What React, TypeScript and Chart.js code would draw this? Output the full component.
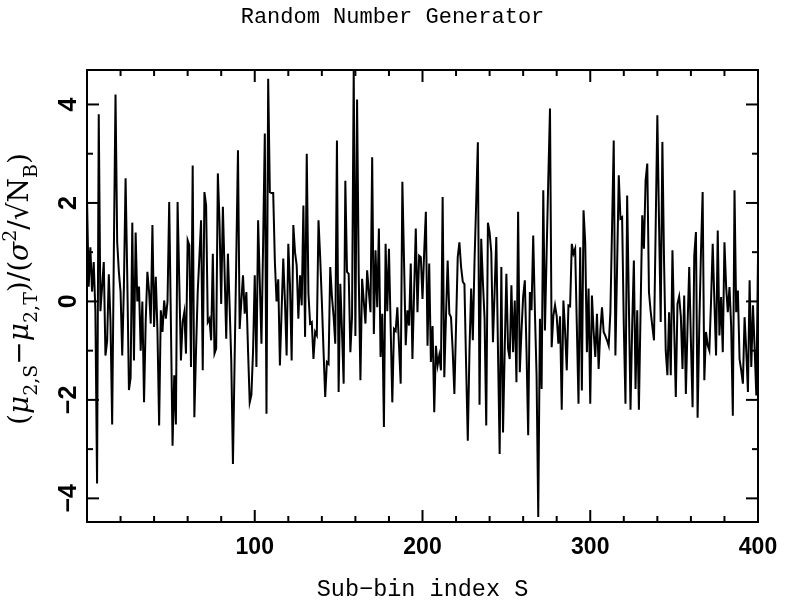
import React, { useEffect, useRef } from "react";
import { Chart, registerables } from "chart.js";

Chart.register(...registerables);

const TITLE = "Random Number Generator";
const X_LABEL = "Sub\u2212bin index S";
const X_MIN = 0;
const X_MAX = 400;
const Y_MIN = -4.48;
const Y_MAX = 4.7;
const X_MAJOR_TICKS = [0, 100, 200, 300, 400];
const X_TICK_LABELS = ["", "100", "200", "300", "400"];
const X_MINOR_TICKS = [20, 40, 60, 80, 120, 140, 160, 180, 220, 240, 260, 280, 320, 340, 360, 380];
const Y_MAJOR_TICKS = [-4, -2, 0, 2, 4];
const Y_TICK_LABELS = ["\u22124", "\u22122", "0", "2", "4"];
const Y_MINOR_TICKS = [-3, -1, 1, 3];

// y-axis label pieces: text + kind (n = normal, i = italic greek, sub, sup)
const Y_LABEL_PARTS: { t: string; k: string }[] = [
  { t: "(", k: "n" },
  { t: "\u03bc", k: "i" },
  { t: "2,S", k: "sub" },
  { t: "\u2212", k: "n" },
  { t: "\u03bc", k: "i" },
  { t: "2,T", k: "sub" },
  { t: ")/(", k: "n" },
  { t: "\u03c3", k: "i" },
  { t: "2", k: "sup" },
  { t: "/\u221aN", k: "n" },
  { t: "B", k: "sub" },
  { t: ")", k: "n" },
];

// values for sub-bin index S = 0 .. 400
const VALUES = [
  2.1, 0.3, 1.1, 0.2, 0.8, -0.2, -3.7, 3.8, -0.2, 0.3,
  0.8, -1.1, -0.8, 0.55, -0.4, -2.5, 1.0, 4.2, 1.2, 0.6,
  0.2, -1.1, 0.3, 2.5, 0.5, -1.8, -1.55, 1.6, -1.2, 1.4,
  0.0, 0.3, -1.0, 0.0, -2.05, -0.4, 0.6, 0.2, -0.45, 1.55,
  -0.52, 0.5, -0.6, -2.52, -0.18, -0.62, 0.02, -0.35, 0.0, 2.02,
  -0.4, -2.93, -1.5, -2.5, 2.02, 0.4, -1.2, -0.42, -0.22, -1.06,
  1.24, 1.14, -1.33, 2.76, -2.35, -1.0, 0.19, 0.9, 1.65, -1.4,
  2.22, 1.95, -0.42, -0.35, -0.79, 0.97, -1.06, -0.96, 2.6, 1.6,
  -0.05, 1.92, 0.63, -0.76, 0.97, -0.08, -1.2, -3.3, -1.2, 0.9,
  3.07, -0.56, 0.0, 0.53, -0.25, 0.19, -1.0, -2.05, -1.9, -1.0,
  0.53, -1.33, 1.65, 0.4, -0.86, 1.2, 3.41, -2.28, 4.52, 2.22,
  2.2, 2.2, 0.8, 0.0, 0.45, -1.3, -0.2, 0.87, 0.0, -1.1,
  1.17, 0.33, -1.2, 1.55, 1.0, 0.73, -0.35, 0.53, -0.08, 1.95,
  -0.72, 3.0, 0.16, -0.45, -0.42, -1.17, -0.62, -0.69, 1.65, 0.9,
  0.0, -1.0, -1.94, -1.23, -1.27, 0.7, 0.1, -0.3, -0.86, 3.27,
  -1.84, 0.36, -0.6, -1.67, 2.45, 0.6, 0.56, -1.03, -0.3, 4.7,
  -0.7, 4.1, 0.5, -1.6, 0.46, 0.0, -0.45, 0.63, 0.2, -0.22,
  2.93, -0.66, 1.04, -0.12, 1.48, -1.13, -0.25, -2.55, 1.17, -0.2,
  1.07, -0.5, -2.05, -0.56, -0.6, -0.12, -0.9, -1.67, 2.43, 0.8,
  -0.89, -0.18, -0.49, 0.77, -1.17, 0.2, 1.48, -0.22, 0.93, 0.9,
  0.05, 1.0, 1.82, -0.9, 0.77, -1.23, -0.5, -2.25, -0.9, -1.3,
  -1.1, -1.4, 2.12, -1.54, -0.3, 0.83, -0.25, -0.32, -1.0, -1.88,
  -0.5, 0.9, 1.2, 0.7, 0.4, 0.35, -1.3, -2.83, -1.0, 0.26,
  -0.79, 0.8, 2.0, 3.23, -2.1, 1.27, 0.4, -0.35, -2.52, 1.6,
  1.4, 1.0, -0.83, 0.2, 1.31, -1.0, -3.1, 0.7, -2.66, -1.0,
  0.56, -0.96, -1.17, 0.33, -1.03, 0.02, -1.64, 1.82, -1.44, -0.6,
  0.1, 0.43, -1.0, -2.72, 0.19, -0.18, 1.34, -0.2, -1.5, -4.38,
  -0.35, -1.78, 2.26, -0.59, 1.0, 2.5, 3.92, -0.93, -0.3, -0.08,
  -0.3, -0.86, -0.3, -2.2, 0.02, -0.6, -1.4, -0.08, -0.1, 1.17,
  0.97, 1.07, -0.5, -2.08, 1.1, -1.81, 1.85, 1.2, -1.03, 0.26,
  -2.08, 0.12, -0.6, -1.13, -0.25, -1.37, -0.6, -0.12, -0.62, -0.7,
  -0.79, -0.9, -0.22, 1.5, 3.27, -1.1, 0.7, 2.56, 1.68, 1.71,
  -0.5, -2.08, 2.15, 0.0, -2.2, -0.5, 0.83, -1.78, -0.18, -2.2,
  -0.2, 1.75, 1.07, 2.46, 2.8, 0.19, -0.2, -0.5, -0.79, 1.5,
  3.78, 1.6, -0.42, 3.24, 0.8, -1.0, -1.5, -0.22, -1.5, 1.04,
  -0.5, -1.94, -0.05, 0.1, -0.3, -1.37, 0.12, -1.88, -0.5, 0.7,
  -0.8, -2.15, 0.93, 1.41, -2.36, -0.5, 1.0, 2.22, -1.6, -0.62,
  -0.89, -1.0, 0.0, 1.17, 0.0, -1.1, 1.44, -0.69, 0.09, -1.03,
  1.2, 0.3, -0.22, 0.29, -0.5, -2.32, 2.26, -0.22, 0.22, -1.17,
  -1.4, -1.67, -0.32, -1.0, -1.84, 0.43, -1.33, -0.08, -0.96, -1.91,
  0.9,
];

const W = 785;
const H = 609;

const framePlugin = {
  id: "frame",
  afterDraw(chart: any) {
    const ctx = chart.ctx as CanvasRenderingContext2D;
    const { left, right, top, bottom } = chart.chartArea;
    const xs = chart.scales.x;
    const ys = chart.scales.y;
    ctx.save();
    ctx.strokeStyle = "#000";
    ctx.fillStyle = "#000";
    ctx.lineWidth = 2;
    ctx.strokeRect(left, top, right - left, bottom - top);

    const tick = (x1: number, y1: number, x2: number, y2: number) => {
      ctx.beginPath();
      ctx.moveTo(x1, y1);
      ctx.lineTo(x2, y2);
      ctx.stroke();
    };
    const MAJ = 12;
    const MIN = 6;
    X_MAJOR_TICKS.forEach((v) => {
      const px = xs.getPixelForValue(v);
      tick(px, bottom, px, bottom - MAJ);
      tick(px, top, px, top + MAJ);
    });
    X_MINOR_TICKS.forEach((v) => {
      const px = xs.getPixelForValue(v);
      tick(px, bottom, px, bottom - MIN);
      tick(px, top, px, top + MIN);
    });
    Y_MAJOR_TICKS.forEach((v) => {
      const py = ys.getPixelForValue(v);
      tick(left, py, left + MAJ, py);
      tick(right, py, right - MAJ, py);
    });
    Y_MINOR_TICKS.forEach((v) => {
      const py = ys.getPixelForValue(v);
      tick(left, py, left + MIN, py);
      tick(right, py, right - MIN, py);
    });

    // x tick labels
    ctx.font = "bold 23px 'Liberation Sans', Arial, sans-serif";
    ctx.textAlign = "center";
    ctx.textBaseline = "middle";
    X_MAJOR_TICKS.forEach((v, i) => {
      const lab = X_TICK_LABELS[i];
      if (!lab) return;
      ctx.fillText(lab, xs.getPixelForValue(v), 548);
    });

    // y tick labels (rotated)
    ctx.font = "bold 25px 'Liberation Sans', Arial, sans-serif";
    Y_MAJOR_TICKS.forEach((v, i) => {
      const py = ys.getPixelForValue(v);
      ctx.save();
      ctx.translate(68, py);
      ctx.rotate(-Math.PI / 2);
      ctx.textAlign = "center";
      ctx.textBaseline = "middle";
      ctx.fillText(Y_TICK_LABELS[i], 0, 1);
      ctx.restore();
    });

    // title
    ctx.font = "22px 'Liberation Mono', 'Courier New', monospace";
    ctx.textAlign = "center";
    ctx.textBaseline = "middle";
    ctx.fillText(TITLE, W / 2, 17);

    // x axis label
    ctx.font = "23.5px 'Liberation Mono', 'Courier New', monospace";
    ctx.fillText(X_LABEL, (left + right) / 2, 590);

    // y axis label with sub/superscripts
    const base = 26;
    const fontFor = (k: string, s: number) => {
      const fam = "'DejaVu Serif', 'Liberation Serif', serif";
      if (k === "sub" || k === "sup") return `${(s * 0.68).toFixed(1)}px ${fam}`;
      if (k === "i") return `italic ${s}px ${fam}`;
      return `${s}px ${fam}`;
    };
    const measure = (s: number) => {
      let w = 0;
      Y_LABEL_PARTS.forEach((p) => {
        ctx.font = fontFor(p.k, s);
        w += ctx.measureText(p.t).width;
      });
      return w;
    };
    const target = 272;
    let size = base;
    const w0 = measure(base);
    size = Math.max(18, Math.min(30, (base * target) / w0));
    const total = measure(size);
    ctx.save();
    ctx.translate(28, 289);
    ctx.rotate(-Math.PI / 2);
    ctx.textAlign = "left";
    ctx.textBaseline = "alphabetic";
    let cx = -total / 2;
    Y_LABEL_PARTS.forEach((p) => {
      ctx.font = fontFor(p.k, size);
      let dy = 0;
      if (p.k === "sub") dy = size * 0.32;
      if (p.k === "sup") dy = -size * 0.42;
      ctx.fillText(p.t, cx, dy);
      cx += ctx.measureText(p.t).width;
    });
    ctx.restore();

    ctx.restore();
  },
};

export default function App() {
  const ref = useRef<HTMLCanvasElement | null>(null);
  useEffect(() => {
    if (!ref.current) return;
    const points = VALUES.map((v, i) => ({ x: i, y: v }));
    const chart = new Chart(ref.current, {
      type: "line",
      data: {
        datasets: [
          {
            data: points,
            borderColor: "#000",
            borderWidth: 2,
            pointRadius: 0,
            tension: 0,
            fill: false,
          },
        ],
      },
      options: {
        responsive: false,
        animation: false,
        devicePixelRatio: 1,
        parsing: true,
        layout: { padding: { left: 0, right: 27, top: 70, bottom: 0 } },
        plugins: {
          legend: { display: false },
          tooltip: { enabled: false },
          title: { display: false },
        },
        scales: {
          x: {
            type: "linear",
            min: X_MIN,
            max: X_MAX,
            grid: { display: false },
            border: { display: false },
            ticks: { display: false },
            afterFit: (s: any) => {
              s.height = 87;
            },
          },
          y: {
            type: "linear",
            min: Y_MIN,
            max: Y_MAX,
            grid: { display: false },
            border: { display: false },
            ticks: { display: false },
            afterFit: (s: any) => {
              s.width = 87;
            },
          },
        },
      },
      plugins: [framePlugin],
    } as any);
    return () => chart.destroy();
  }, []);
  return (
    <div style={{ position: "absolute", left: 0, top: 0, width: W, height: H, background: "#fff" }}>
      <canvas ref={ref} width={W} height={H} style={{ display: "block" }} />
    </div>
  );
}
